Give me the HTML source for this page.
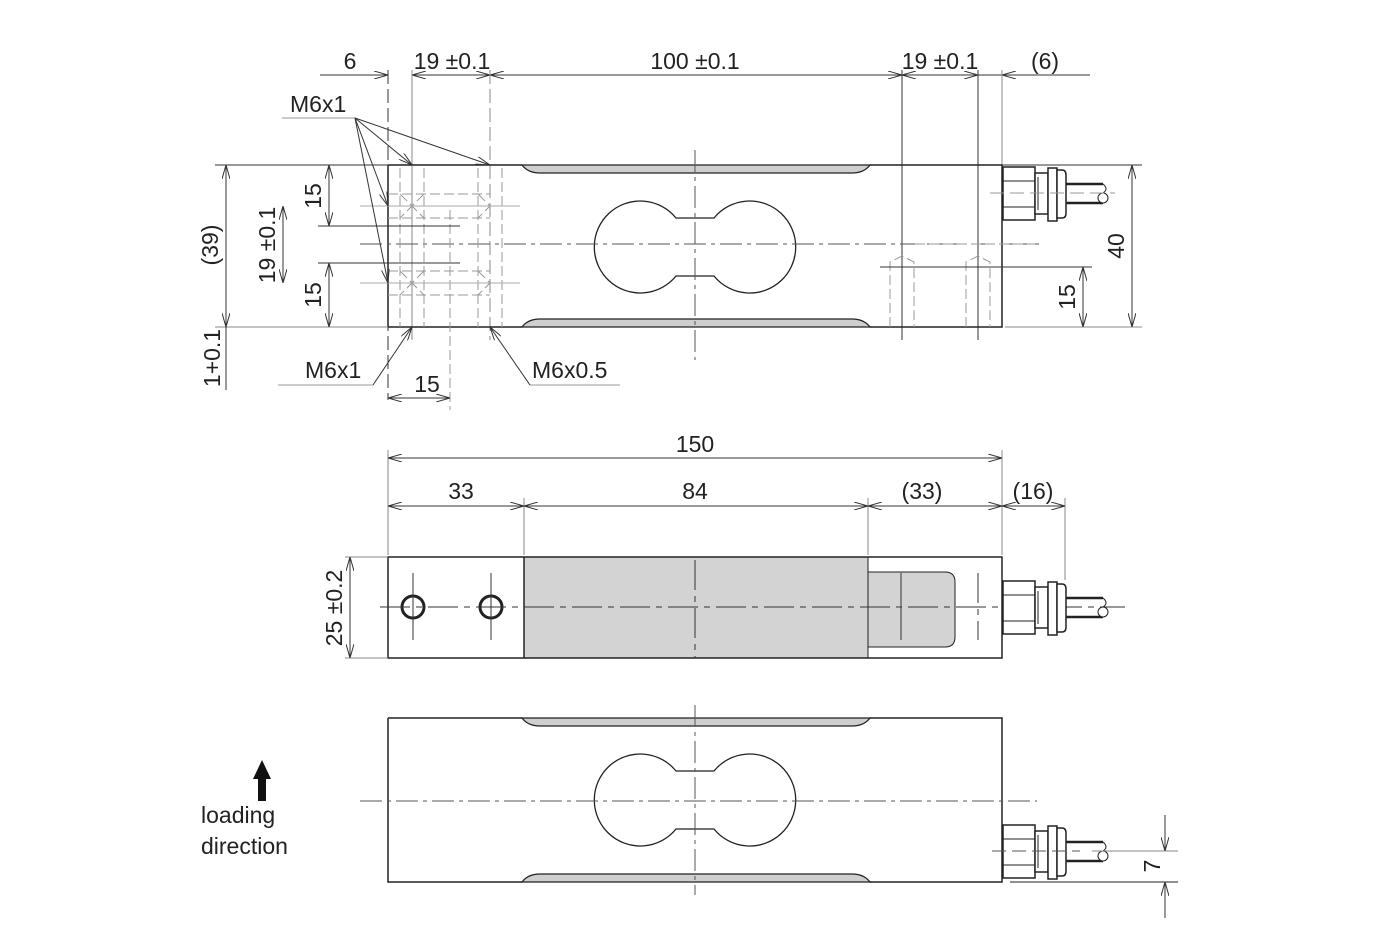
<!DOCTYPE html>
<html><head><meta charset="utf-8"><style>
html,body{margin:0;padding:0;background:#fff;}
svg{display:block;}
text{font-family:"Liberation Sans",Arial,sans-serif;font-size:23px;fill:#222;}
</style></head><body>
<svg width="1398" height="931" viewBox="0 0 1398 931" xmlns="http://www.w3.org/2000/svg">
<defs>
<marker id="a" viewBox="0 0 14 8" refX="14" refY="4" markerWidth="14" markerHeight="8" markerUnits="userSpaceOnUse" orient="auto-start-reverse">
<path d="M0,0 L14,4 L0,8" fill="none" stroke="#333" stroke-width="1"/>
</marker>
<g id="conn" fill="#fff" stroke="#222" stroke-width="1.5">
<rect x="1" y="-26" width="32" height="53"/>
<line x1="1" y1="-12" x2="33" y2="-12" stroke-width="1"/>
<line x1="1" y1="14" x2="33" y2="14" stroke-width="1"/>
<rect x="33" y="-20" width="13" height="41"/>
<line x1="36" y1="-16" x2="36" y2="17" stroke-width="1"/>
<rect x="46" y="-25" width="9" height="53"/>
<path d="M55,-23 L60,-23 Q64,-23 64,-18 L64,20 Q64,25 60,25 L55,25 Z"/>
<path d="M64,-9 L101,-9 M64,10 L101,10" stroke-width="2.5"/>
<path d="M101,-9 Q107,-4 101,0 Q96,5 101,10" stroke-width="1"/>
<circle cx="101" cy="5" r="5" stroke-width="1"/>
</g>
<g id="strips" fill="#cfcfcf" stroke="#222" stroke-width="1.2">
<path d="M522,0 Q528,8 540,8 L852,8 Q864,8 870,0 Z"/>
</g>
</defs>

<g stroke="#333" stroke-width="1" fill="none">
<line x1="320" y1="75" x2="388" y2="75" marker-end="url(#a)"/>
<line x1="412" y1="75" x2="490" y2="75" marker-start="url(#a)" marker-end="url(#a)"/>
<line x1="490" y1="75" x2="902" y2="75" marker-start="url(#a)" marker-end="url(#a)"/>
<line x1="902" y1="75" x2="978" y2="75" marker-start="url(#a)" marker-end="url(#a)"/>
<line x1="978" y1="75" x2="1002" y2="75"/>
<line x1="1002" y1="75" x2="1090" y2="75" marker-start="url(#a)"/>
<line x1="388" y1="70" x2="388" y2="400" stroke-dasharray="14,5"/>
<line x1="412" y1="70" x2="412" y2="340" stroke="#888"/>
<line x1="490" y1="70" x2="490" y2="340" stroke="#888" stroke-dasharray="14,5"/>
<line x1="902" y1="70" x2="902" y2="340"/>
<line x1="978" y1="70" x2="978" y2="340"/>
<line x1="1002" y1="70" x2="1002" y2="165" stroke="#888"/>
<path d="M388,165 L522,165 M870,165 L1002,165 L1002,327 L870,327 M522,327 L388,327 Z M388,165 L388,327" stroke="#222" stroke-width="1.5"/>
<use href="#strips" transform="translate(0,165)"/>
<use href="#strips" transform="translate(0,327) scale(1,-1)"/>
<path d="M676,218 L714,218 A46,46 0 1 1 714,276 L676,276 A46,46 0 1 1 676,218 Z" stroke="#222" stroke-width="1.3"/>
<line x1="695" y1="150" x2="695" y2="360" stroke-dasharray="22,5,4,5" stroke="#555"/>
<line x1="360" y1="244" x2="1040" y2="244" stroke-dasharray="22,5,4,5" stroke="#555"/>
<g stroke="#999" stroke-dasharray="10,4">
<line x1="400" y1="168" x2="400" y2="327"/><line x1="424" y1="168" x2="424" y2="327"/>
<line x1="478" y1="168" x2="478" y2="327"/><line x1="502" y1="168" x2="502" y2="327"/>
<line x1="388" y1="194" x2="490" y2="194"/><line x1="388" y1="218" x2="490" y2="218"/>
<line x1="388" y1="271" x2="490" y2="271"/><line x1="388" y1="295" x2="490" y2="295"/>
<line x1="450" y1="210" x2="450" y2="410"/>
<path d="M400,194 L412,206 L400,218 M424,194 L412,206 L424,218 M478,194 L490,206 L478,218"/>
<path d="M400,271 L412,283 L400,295 M424,271 L412,283 L424,295 M478,271 L490,283 L478,295"/>
<path d="M890,327 L890,262 L902,256 L914,262 L914,327 M966,327 L966,262 L978,256 L990,262 L990,327"/>
<path d="M915,244 L1035,244"/>
</g>
<line x1="360" y1="206" x2="520" y2="206" stroke="#aaa"/>
<line x1="360" y1="283" x2="520" y2="283" stroke="#aaa"/>
<line x1="318" y1="226" x2="460" y2="226"/>
<line x1="318" y1="263" x2="460" y2="263"/>
<line x1="880" y1="267" x2="1092" y2="267"/>
<line x1="282" y1="118" x2="355" y2="118" stroke="#999"/>
<line x1="355" y1="118" x2="412" y2="165" marker-end="url(#a)"/>
<line x1="355" y1="118" x2="490" y2="165" marker-end="url(#a)"/>
<line x1="355" y1="118" x2="388" y2="206" marker-end="url(#a)"/>
<line x1="355" y1="118" x2="388" y2="283" marker-end="url(#a)"/>
<line x1="278" y1="385" x2="373" y2="385" stroke="#999"/>
<line x1="373" y1="385" x2="412" y2="327" marker-end="url(#a)"/>
<line x1="620" y1="385" x2="530" y2="385" stroke="#999"/>
<line x1="530" y1="385" x2="490" y2="327" marker-end="url(#a)"/>
<line x1="215" y1="165" x2="388" y2="165"/>
<line x1="215" y1="327" x2="388" y2="327" stroke="#888"/>
<line x1="226" y1="165" x2="226" y2="327" marker-start="url(#a)" marker-end="url(#a)"/>
<line x1="226" y1="327" x2="226" y2="390"/>
<line x1="329" y1="165" x2="329" y2="226" marker-start="url(#a)" marker-end="url(#a)"/>
<line x1="329" y1="263" x2="329" y2="327" marker-start="url(#a)" marker-end="url(#a)"/>
<line x1="283" y1="206" x2="283" y2="283" marker-start="url(#a)" marker-end="url(#a)"/>
<line x1="388" y1="398" x2="450" y2="398" marker-start="url(#a)" marker-end="url(#a)"/>
<line x1="1002" y1="165" x2="1142" y2="165"/>
<line x1="1005" y1="327" x2="1142" y2="327" stroke="#888"/>
<line x1="1132" y1="165" x2="1132" y2="327" marker-start="url(#a)" marker-end="url(#a)"/>
<line x1="1083" y1="267" x2="1083" y2="327" marker-start="url(#a)" marker-end="url(#a)"/>
<use href="#conn" transform="translate(1002,193)"/>
<line x1="990" y1="193" x2="1115" y2="193" stroke="#999" stroke-dasharray="14,6"/>

<line x1="388" y1="450" x2="388" y2="555" stroke="#888"/>
<line x1="1002" y1="450" x2="1002" y2="555" stroke="#888"/>
<line x1="524" y1="498" x2="524" y2="555" stroke="#888"/>
<line x1="868" y1="498" x2="868" y2="555" stroke="#888"/>
<line x1="1065" y1="498" x2="1065" y2="580" stroke="#888"/>
<line x1="388" y1="458" x2="1002" y2="458" marker-start="url(#a)" marker-end="url(#a)"/>
<line x1="388" y1="506" x2="524" y2="506" marker-start="url(#a)" marker-end="url(#a)"/>
<line x1="524" y1="506" x2="868" y2="506" marker-start="url(#a)" marker-end="url(#a)"/>
<line x1="868" y1="506" x2="1002" y2="506" marker-start="url(#a)" marker-end="url(#a)"/>
<line x1="1002" y1="506" x2="1065" y2="506" marker-start="url(#a)" marker-end="url(#a)"/>
<rect x="524" y="557" width="344" height="101" fill="#d3d3d3" stroke="none"/>
<path d="M868,572 L945,572 Q955,572 955,582 L955,637 Q955,647 945,647 L868,647 Z" fill="#d3d3d3" stroke="#222"/>
<rect x="388" y="557" width="614" height="101" stroke="#222" stroke-width="1.5"/>
<line x1="524" y1="557" x2="524" y2="658" stroke="#222" stroke-width="1.5"/>
<line x1="868" y1="557" x2="868" y2="572" stroke="#222"/><line x1="868" y1="647" x2="868" y2="658" stroke="#222"/>
<line x1="345" y1="557" x2="388" y2="557" stroke="#888"/>
<line x1="345" y1="658" x2="388" y2="658" stroke="#888"/>
<line x1="350" y1="557" x2="350" y2="658" marker-start="url(#a)" marker-end="url(#a)"/>
<circle cx="413" cy="607" r="11" stroke="#222" stroke-width="3"/>
<circle cx="491" cy="607" r="11" stroke="#222" stroke-width="3"/>
<line x1="413" y1="573" x2="413" y2="640"/><line x1="491" y1="573" x2="491" y2="640"/>
<line x1="380" y1="607" x2="1125" y2="607" stroke-dasharray="30,6,6,6"/>
<line x1="695" y1="560" x2="695" y2="658" stroke-dasharray="30,6,6,6"/>
<line x1="901" y1="573" x2="901" y2="640"/>
<line x1="978" y1="573" x2="978" y2="640" stroke-dasharray="30,6,6,6"/>
<use href="#conn" transform="translate(1002,607)"/>

<path d="M388,718 L522,718 M870,718 L1002,718 L1002,882 L870,882 M522,882 L388,882 L388,718" stroke="#222" stroke-width="1.5"/>
<use href="#strips" transform="translate(0,718)"/>
<use href="#strips" transform="translate(0,882) scale(1,-1)"/>
<path d="M676,771 L714,771 A46,46 0 1 1 714,829 L676,829 A46,46 0 1 1 676,771 Z" stroke="#222" stroke-width="1.3"/>
<line x1="695" y1="705" x2="695" y2="895" stroke-dasharray="22,5,4,5" stroke="#555"/>
<line x1="360" y1="801" x2="1037" y2="801" stroke-dasharray="22,5,4,5" stroke="#555"/>
<use href="#conn" transform="translate(1002,851)"/>
<line x1="992" y1="851" x2="1080" y2="851" stroke="#555" stroke-dasharray="14,6"/>
<line x1="1092" y1="851" x2="1178" y2="851" stroke="#888"/>
<line x1="1010" y1="882" x2="1178" y2="882" stroke="#222"/>
<line x1="1165" y1="815" x2="1165" y2="851" marker-end="url(#a)"/>
<line x1="1165" y1="918" x2="1165" y2="882" marker-end="url(#a)"/>
</g>
<path d="M262,760 L271,779 L266,779 L266,801 L258,801 L258,779 L253,779 Z" fill="#111"/>

<text x="350" y="69" text-anchor="middle">6</text>
<text x="452" y="69" text-anchor="middle">19 ±0.1</text>
<text x="695" y="69" text-anchor="middle">100 ±0.1</text>
<text x="940" y="69" text-anchor="middle">19 ±0.1</text>
<text x="1045" y="69" text-anchor="middle">(6)</text>
<text x="290" y="112">M6x1</text>
<text x="305" y="378">M6x1</text>
<text x="532" y="378">M6x0.5</text>
<text x="427" y="392" text-anchor="middle">15</text>
<text transform="translate(218,245) rotate(-90)" text-anchor="middle">(39)</text>
<text transform="translate(220,358) rotate(-90)" text-anchor="middle">1+0.1</text>
<text transform="translate(321,196) rotate(-90)" text-anchor="middle">15</text>
<text transform="translate(321,295) rotate(-90)" text-anchor="middle">15</text>
<text transform="translate(275,245) rotate(-90)" text-anchor="middle">19 ±0.1</text>
<text transform="translate(1124,246) rotate(-90)" text-anchor="middle">40</text>
<text transform="translate(1075,297) rotate(-90)" text-anchor="middle">15</text>
<text x="695" y="452" text-anchor="middle">150</text>
<text x="461" y="499" text-anchor="middle">33</text>
<text x="695" y="499" text-anchor="middle">84</text>
<text x="922" y="499" text-anchor="middle">(33)</text>
<text x="1033" y="499" text-anchor="middle">(16)</text>
<text transform="translate(342,608) rotate(-90)" text-anchor="middle">25 ±0.2</text>
<text transform="translate(1160,866) rotate(-90)" text-anchor="middle">7</text>
<text x="201" y="823">loading</text>
<text x="201" y="854">direction</text>
</svg>
</body></html>
